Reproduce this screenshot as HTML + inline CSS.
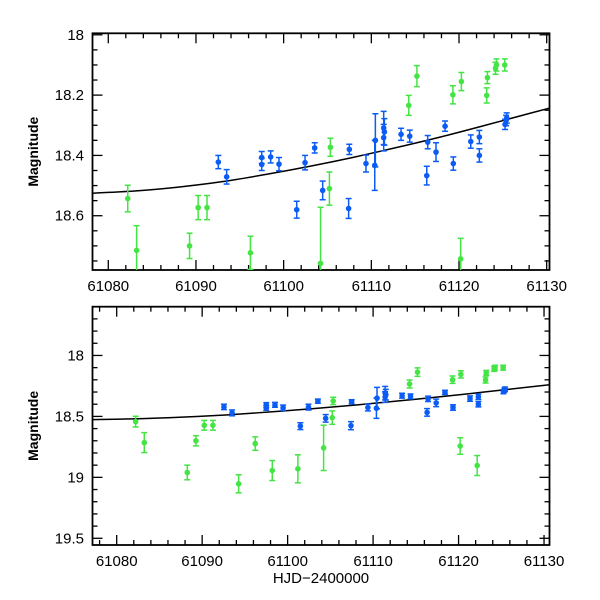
<!DOCTYPE html>
<html><head><meta charset="utf-8"><style>
html,body{margin:0;padding:0;background:#fff;}
svg{display:block;font-family:"Liberation Sans",Helvetica,sans-serif;}
</style></head><body>
<svg id="chart" width="600" height="600" viewBox="0 0 600 600"></svg>
<script>
const blueDays=[61092.55,61093.50,61097.50,61097.50,61098.52,61099.47,61101.49,61102.44,61103.54,61104.45,61107.49,61107.41,61109.39,61110.39,61110.46,61111.41,61111.41,61111.49,61113.39,61114.38,61116.32,61116.43,61117.38,61118.41,61119.35,61121.34,61122.32,61122.32,61125.25,61125.37,61125.44];
const blueMags=[18.422,18.471,18.407,18.430,18.405,18.429,18.580,18.424,18.375,18.516,18.380,18.576,18.427,18.433,18.350,18.309,18.341,18.322,18.330,18.336,18.467,18.356,18.389,18.303,18.427,18.354,18.339,18.400,18.297,18.284,18.276];
const blueErrs=[0.022,0.024,0.02,0.02,0.02,0.022,0.028,0.024,0.017,0.031,0.017,0.033,0.028,0.083,0.088,0.055,0.044,0.044,0.02,0.02,0.031,0.022,0.031,0.017,0.022,0.022,0.022,0.022,0.017,0.017,0.017];
const greenDays=[61082.22,61083.23,61088.26,61089.27,61090.25,61091.26,61094.27,61096.21,61098.20,61101.20,61104.21,61105.22,61105.33,61114.27,61115.20,61119.30,61120.27,61120.19,61122.18,61123.16,61123.24,61124.16,61124.27,61125.22];
const greenMags=[18.543,18.715,18.960,18.700,18.573,18.573,19.053,18.723,18.944,18.930,18.758,18.510,18.373,18.234,18.137,18.199,18.155,18.743,18.903,18.201,18.142,18.111,18.100,18.100];
const greenErrs=[0.044,0.082,0.06,0.042,0.04,0.04,0.074,0.055,0.082,0.115,0.186,0.055,0.03,0.033,0.035,0.03,0.03,0.068,0.082,0.025,0.02,0.02,0.02,0.02];
const modelDays=[61077,61083,61088,61093,61098,61103,61108,61113,61118,61123,61128,61131];
const modelMags=[18.527,18.518,18.505,18.487,18.463,18.436,18.406,18.373,18.338,18.300,18.261,18.238];
const xTickLabels=[61080,61090,61100,61110,61120,61130];
const topYTickLabels=["18","18.2","18.4","18.6"];
const botYTickLabels=["18","18.5","19","19.5"];

const NS="http://www.w3.org/2000/svg";
const svg=document.getElementById('chart');
function mk(tag,attrs,parent){const e=document.createElementNS(NS,tag);for(const k in attrs)e.setAttribute(k,attrs[k]);(parent||svg).appendChild(e);return e;}

const panels=[
 {name:'top',x0:92.5,x1:549.5,y0:33.3,y1:270,dmin:61078.2,dmax:61130.32,mmin:17.995,mmax:18.78,
  yLabels:topYTickLabels,yMajor:0.2,yMinor:0.05,yStart:18.0},
 {name:'bottom',x0:92.5,x1:549.5,y0:306.7,y1:545,dmin:61077.17,dmax:61130.64,mmin:17.6,mmax:19.555,
  yLabels:botYTickLabels,yMajor:0.5,yMinor:0.1,yStart:18.0}
];

function smoothPath(P){
  let d='M'+P[0][0].toFixed(2)+','+P[0][1].toFixed(2);
  for(let i=0;i<P.length-1;i++){
    const p0=P[Math.max(i-1,0)],p1=P[i],p2=P[i+1],p3=P[Math.min(i+2,P.length-1)];
    const c1=[p1[0]+(p2[0]-p0[0])/6,p1[1]+(p2[1]-p0[1])/6];
    const c2=[p2[0]-(p3[0]-p1[0])/6,p2[1]-(p3[1]-p1[1])/6];
    d+=' C'+c1[0].toFixed(2)+','+c1[1].toFixed(2)+' '+c2[0].toFixed(2)+','+c2[1].toFixed(2)+' '+p2[0].toFixed(2)+','+p2[1].toFixed(2);
  }
  return d;
}

panels.forEach(p=>{
  const X=d=>p.x0+(d-p.dmin)/(p.dmax-p.dmin)*(p.x1-p.x0);
  const Y=m=>p.y0+(m-p.mmin)/(p.mmax-p.mmin)*(p.y1-p.y0);
  const g=mk('g',{});
  
  
  const clipId='clip-'+p.name;
  const cp=mk('clipPath',{id:clipId},g);
  mk('rect',{x:p.x0,y:p.y0,width:p.x1-p.x0,height:p.y1-p.y0},cp);
  const ticks=mk('g',{stroke:'#000','stroke-width':1.3},g);
  
  
  for(let d=61078;d<=61130.5;d+=2){
    const x=X(d); if(x<p.x0||x>p.x1)continue;
    const L=(d%10===0)?10:5;
    mk('line',{x1:x,x2:x,y1:p.y1,y2:p.y1-L},ticks);
    mk('line',{x1:x,x2:x,y1:p.y0,y2:p.y0+L},ticks);
  }
  const nMin=Math.round((p.mmax-17.5)/p.yMinor);
  for(let i=0;i<=nMin;i++){
    const m=17.5+i*p.yMinor; const y=Y(m); if(y<p.y0-0.5||y>p.y1+0.5)continue;
    const r=(m-p.yStart)/p.yMajor; const major=Math.abs(r-Math.round(r))<1e-6;
    const L=major?10:5;
    mk('line',{x1:p.x0,x2:p.x0+L,y1:y,y2:y},ticks);
    mk('line',{x1:p.x1,x2:p.x1-L,y1:y,y2:y},ticks);
  }
  mk('rect',{x:p.x0,y:p.y0,width:p.x1-p.x0,height:p.y1-p.y0,fill:'none',stroke:'#000','stroke-width':1.8},g);
  xTickLabels.forEach(v=>{
    const t=mk('text',{x:X(v),y:p.y1+21,'text-anchor':'middle','font-size':15},g);
    t.textContent=v;
    
    
  });
  p.yLabels.forEach(s=>{
    const t=mk('text',{x:84,y:Y(parseFloat(s))+5,'text-anchor':'end','font-size':15},g);
    t.textContent=s;
    
    
  });
  const yl=mk('text',{transform:`translate(38,${(p.y0+p.y1)/2}) rotate(-90)`,'text-anchor':'middle','font-size':14,'font-weight':'bold'},g);
  yl.textContent='Magnitude';
  
  
  const dg=mk('g',{'clip-path':`url(#${clipId})`},g);
  const P=modelDays.map((d,i)=>[X(d),Y(modelMags[i])]);
  const ml=mk('path',{d:smoothPath(P),fill:'none',stroke:'#000','stroke-width':1.5},dg);
  
  
  function series(days,mags,errs,col,nm){
    days.forEach((d,i)=>{
      const x=X(d),y=Y(mags[i]),ya=Y(mags[i]-errs[i]),yb=Y(mags[i]+errs[i]);
      const s=mk('g',{stroke:col,'stroke-width':1.5,fill:col},dg);
      
      
      mk('line',{x1:x,x2:x,y1:ya,y2:yb},s);
      mk('line',{x1:x-3,x2:x+3,y1:ya,y2:ya},s);
      mk('line',{x1:x-3,x2:x+3,y1:yb,y2:yb},s);
      mk('circle',{cx:x,cy:y,r:2.8,stroke:'none'},s);
    });
  }
  series(greenDays,greenMags,greenErrs,'#44e444','green');
  series(blueDays,blueMags,blueErrs,'#0a5cf5','blue');
});
const xt=mk('text',{x:321,y:583,'text-anchor':'middle','font-size':15});
xt.textContent='HJD\u22122400000';


</script>
</body></html>
